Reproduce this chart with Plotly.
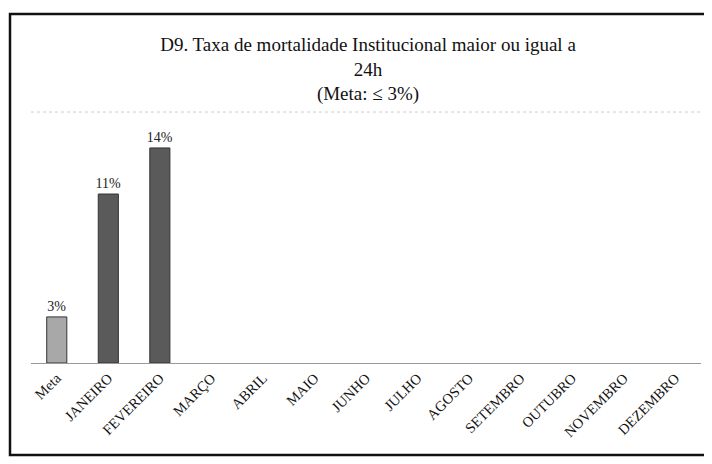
import plotly.graph_objects as go

categories = ["Meta", "JANEIRO", "FEVEREIRO", "MARÇO", "ABRIL", "MAIO", "JUNHO",
              "JULHO", "AGOSTO", "SETEMBRO", "OUTUBRO", "NOVEMBRO", "DEZEMBRO"]
values = [3, 11, 14, None, None, None, None, None, None, None, None, None, None]
labels = ["3%", "11%", "14%"] + [""] * 10
colors = ["#a8a8a8"] + ["#5a5a5a"] * 12
title_text = "D9. Taxa de mortalidade Institucional maior ou igual a<br>24h<br>(Meta: ≤ 3%)"

W, H = 712, 464
L, R, T, B = 23, 19, 104, 109
PW, PH = W - L - R, H - T - B

fig = go.Figure()
fig.add_trace(go.Bar(
    x=categories, y=values, text=labels, textposition="outside",
    marker=dict(color=colors, line=dict(color="#333333", width=1)),
    textfont=dict(family="Liberation Serif", size=14, color="#222"),
    constraintext="none",
    cliponaxis=False, width=0.39,
))

fig.update_layout(
    width=W, height=H,
    margin=dict(l=L, r=R, t=T, b=B),
    paper_bgcolor="white", plot_bgcolor="white",
    showlegend=False,
    title=dict(text=title_text, x=360 / W, xanchor="center", y=1 - 43 / H, yanchor="top",
               font=dict(family="Liberation Serif", size=19, color="#111")),
    xaxis=dict(tickangle=-45, tickfont=dict(family="Liberation Serif", size=14.5, color="#111"),
               showline=True, linecolor="#999", linewidth=1, showgrid=False, ticks=""),
    yaxis=dict(range=[0, 16.34], visible=False, showgrid=False),
    shapes=[
        dict(type="line", xref="paper", yref="paper", x0=0, x1=1, y0=1, y1=1,
             line=dict(color="#ccc", width=1, dash="dot")),
        dict(type="rect", xref="paper", yref="paper",
             x0=(2 - L) / PW, x1=(716 - L) / PW,
             y0=-(447 - (H - B)) / PH, y1=1 + (T - 6) / PH,
             line=dict(color="#111", width=2.5), layer="below"),
    ],
)

fig.write_html("out.html")
